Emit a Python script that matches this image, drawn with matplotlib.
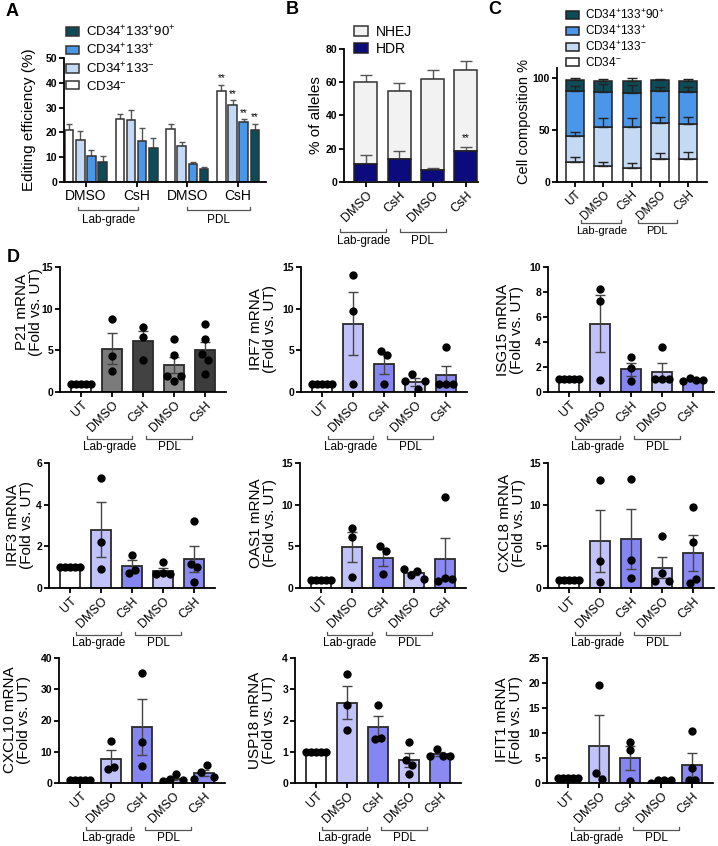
import numpy as np
import matplotlib
matplotlib.use("Agg")
import matplotlib.pyplot as plt
from matplotlib.patches import Patch

plt.rcParams['font.family'] = ['Liberation Sans', 'DejaVu Sans']
plt.rcParams['mathtext.fontset'] = 'custom'
plt.rcParams['mathtext.rm'] = 'Liberation Sans'
plt.rcParams['mathtext.it'] = 'Liberation Sans'
plt.rcParams['mathtext.bf'] = 'Liberation Sans:bold'
plt.rcParams['axes.linewidth'] = 1.3

# ---------------- data ----------------
pop_labels = ["CD34$^{-}$", "CD34$^{+}$133$^{-}$", "CD34$^{+}$133$^{+}$", "CD34$^{+}$133$^{+}$90$^{+}$"]
pop_colors = ["#ffffff", "#c4daf4", "#4a97ea", "#0d4b59"]

# A: editing efficiency (%), groups Lab DMSO, Lab CsH, PDL DMSO, PDL CsH
a_groups = ["DMSO", "CsH", "DMSO", "CsH"]
a_cd34neg = [20.8, 25.3, 21.4, 36.8]
a_cd34neg_err = [2.5, 2.1, 1.9, 2.4]
a_133neg = [17.0, 25.0, 14.4, 31.0]
a_133neg_err = [3.6, 4.0, 1.9, 2.0]
a_133pos = [10.4, 16.6, 7.1, 24.0]
a_133pos_err = [2.7, 5.0, 0.8, 1.3]
a_90pos = [7.9, 13.6, 5.1, 21.0]
a_90pos_err = [2.7, 4.3, 1.0, 2.5]

# B: % of alleles
b_groups = ["DMSO", "CsH", "DMSO", "CsH"]
b_total = [60.1, 55.0, 62.1, 67.5]
b_total_err = [4.2, 4.5, 5.3, 5.2]
b_hdr = [11.1, 14.1, 7.5, 18.5]
b_hdr_err = [5.0, 4.7, 1.2, 2.7]

# C: cell composition % (segment heights, bottom to top)
c_groups = ["UT", "DMSO", "CsH", "DMSO", "CsH"]
c_cd34neg = [19.4, 15.2, 13.9, 22.6, 22.6]
c_cd34neg_err = [4.6, 3.8, 4.5, 5.8, 6.4]
c_133neg = [25.1, 38.0, 39.3, 33.9, 32.9]
c_133neg_err = [3.9, 8.1, 8.4, 6.4, 6.8]
c_133pos = [43.5, 33.6, 32.3, 31.5, 31.3]
c_133pos_err = [5.0, 7.4, 7.7, 4.0, 5.2]
c_90pos = [10.4, 10.6, 11.9, 10.4, 10.9]
c_90pos_err = [2.2, 1.6, 2.6, 1.3, 2.0]

# D: mRNA fold vs UT
d_groups = ["UT", "DMSO", "CsH", "DMSO", "CsH"]

p21_pts = [[1] * 5, [8.8, 4.3, 2.5], [7.8, 6.6, 3.8], [6.3, 4.4, 1.9, 1.3, 1.9], [8.1, 6.4, 4.6, 3.8, 2.2]]
p21_mean = [1, 5.2, 6.1, 3.2, 5.0]
p21_sem = [0, 1.9, 1.2, 0.95, 1.0]

irf7_pts = [[1] * 5, [14.0, 9.7, 1.0], [4.9, 4.4, 0.9], [1.3, 2.2, 0.4, 1.3], [0.9, 5.4, 0.9, 0.9]]
irf7_mean = [1, 8.2, 3.4, 1.2, 2.0]
irf7_sem = [0, 3.8, 1.3, 0.45, 1.15]

isg15_pts = [[1] * 5, [8.2, 7.3, 0.95], [2.8, 1.9, 0.9], [1.0, 3.6, 1.0, 1.0], [0.85, 1.1, 0.95, 0.95]]
isg15_mean = [1, 5.45, 1.8, 1.63, 0.93]
isg15_sem = [0, 2.28, 0.52, 0.65, 0.06]

irf3_pts = [[1] * 5, [5.3, 2.2, 0.9], [0.7, 1.6, 0.85], [0.67, 1.24, 0.74, 0.67], [1.15, 3.2, 1.0, 0.3]]
irf3_mean = [1, 2.8, 1.05, 0.83, 1.41]
irf3_sem = [0, 1.32, 0.3, 0.13, 0.62]

oas1_pts = [[1] * 5, [7.2, 6.1, 1.3], [5.0, 4.4, 1.7], [2.3, 1.6, 2.1, 1.1], [0.8, 10.9, 1.2, 1.1]]
oas1_mean = [1, 4.87, 3.65, 1.8, 3.5]
oas1_sem = [0, 1.8, 1.05, 0.27, 2.47]

cxcl8_pts = [[1] * 5, [13.0, 3.2, 0.75], [13.1, 3.4, 1.2], [0.8, 6.3, 1.8, 0.85], [0.6, 9.7, 5.5, 1.1]]
cxcl8_mean = [1, 5.67, 5.9, 2.45, 4.2]
cxcl8_sem = [0, 3.75, 3.6, 1.28, 2.15]

cxcl10_pts = [[1] * 5, [4.5, 13.4, 5.2], [35.2, 13.1, 5.6], [0.64, 1.4, 2.8, 0.9], [1.2, 3.5, 5.9, 1.9]]
cxcl10_mean = [1, 7.63, 18.0, 1.43, 3.1]
cxcl10_sem = [0, 2.9, 8.9, 0.45, 0.95]

usp18_pts = [[1] * 5, [3.5, 2.5, 1.7], [1.4, 2.5, 1.45], [1.32, 0.75, 0.57, 0.29], [0.85, 1.1, 0.88, 0.88]]
usp18_mean = [1, 2.57, 1.78, 0.73, 0.93]
usp18_sem = [0, 0.52, 0.37, 0.23, 0.06]

ifit1_pts = [[1] * 5, [19.6, 2.1, 0.9], [8.3, 6.6, 0.4], [0.1, 0.6, 0.7, 0.7], [0.6, 10.4, 3.0, 0.7]]
ifit1_mean = [1, 7.5, 5.07, 0.5, 3.6]
ifit1_sem = [0, 6.1, 2.4, 0.15, 2.35]

gray_cols = ["#ffffff", "#7b7b7b", "#424242", "#8a8a8a", "#3c3c3c"]
blue_cols = ["#ffffff", "#c2c2fa", "#8686f2", "#c6c6fa", "#8a8af2"]

# ---------------- helpers ----------------
W, H = 718, 846
fig = plt.figure(figsize=(W / 100, H / 100), dpi=100)


def box(left, top, right, bottom):
    return fig.add_axes([left / W, 1 - bottom / H, (right - left) / W, (bottom - top) / H])


def style(ax):
    for s in ["top", "right"]:
        ax.spines[s].set_visible(False)
    ax.tick_params(axis="both", direction="out", length=3.5, width=1.3, pad=1.5)
    ax.tick_params(axis="y", labelsize=7.5)
    for t in ax.get_yticklabels():
        t.set_fontweight("bold")


def bracket(ax, x0, x1, dy, ty, label, fs=8.5):
    tr = ax.get_xaxis_transform()
    h = ax.get_position().height * H
    y = -dy / h
    up = 3 / h
    ax.plot([x0, x0, x1, x1], [y + up, y, y, y + up], color="#555555", lw=0.9,
            transform=tr, clip_on=False)
    ax.text((x0 + x1) / 2, -ty / h, label, transform=tr, ha="center", va="center", fontsize=fs)


def swarm(ax, pos, vals, thr_px=8.0):
    h = ax.get_position().height * H
    ylo, yhi = ax.get_ylim()
    ppu = h / (yhi - ylo)
    order = np.argsort(vals)
    clusters, cur = [], [order[0]]
    for a, b in zip(order[:-1], order[1:]):
        if (vals[b] - vals[a]) * ppu < thr_px:
            cur.append(b)
        else:
            clusters.append(cur)
            cur = [b]
    clusters.append(cur)
    xs = np.full(len(vals), float(pos))
    for c in clusters:
        c = sorted(c)
        k = len(c)
        if k > 1:
            step = min(0.22, 0.64 / (k - 1))
            for j, idx in enumerate(c):
                xs[idx] = pos + (j - (k - 1) / 2) * step
    ax.scatter(xs, vals, s=36, color="black", zorder=5, linewidths=0)


def ylab(text, x, y, fs=11):
    fig.text(x / W, 1 - y / H, text, rotation=90, ha="center", va="center",
             fontsize=fs, multialignment="center", linespacing=1.0)


# ---------------- panel A ----------------
axA = box(64, 58, 266, 182)
xa = np.arange(4)
offs = [-0.33, -0.11, 0.11, 0.33]
a_vals = [a_cd34neg, a_133neg, a_133pos, a_90pos]
a_errs = [a_cd34neg_err, a_133neg_err, a_133pos_err, a_90pos_err]
for i in range(4):
    axA.bar(xa + offs[i], a_vals[i], 0.17, color=pop_colors[i], edgecolor="#333333", lw=1.1, zorder=2)
    axA.errorbar(xa + offs[i], a_vals[i], yerr=[np.zeros(4), a_errs[i]], fmt="none",
                 ecolor="#555555", elinewidth=1, capsize=2.5, capthick=1, zorder=1)
    axA.text(3 + offs[i], a_vals[i][3] + a_errs[i][3] + 0.6, "**", ha="center", va="bottom", fontsize=7)
axA.set_ylim(0, 50)
axA.set_yticks(range(0, 51, 10))
axA.set_xlim(-0.43, 3.55)
axA.set_xticks(xa)
axA.set_xticklabels(a_groups, fontsize=10)
style(axA)
bracket(axA, -0.15, 1.03, 28, 38, "Lab-grade")
bracket(axA, 2.0, 3.24, 28, 38, "PDL")
handles = [Patch(facecolor=pop_colors[i], edgecolor="#333333", lw=1.1) for i in [3, 2, 1, 0]]
axA.legend(handles, [pop_labels[i] for i in [3, 2, 1, 0]], loc="upper left",
           bbox_to_anchor=(66 / W, 1 - 24 / H), bbox_transform=fig.transFigure, frameon=False,
           fontsize=9.5, handlelength=1.0, handleheight=0.65, handletextpad=0.5,
           labelspacing=0.26, borderpad=0, borderaxespad=0)
ylab("Editing efficiency (%)", 29, 120)

# ---------------- panel B ----------------
axB = box(344, 49, 478, 182)
xb = np.arange(4)
nhej = np.array(b_total) - np.array(b_hdr)
axB.bar(xb, nhej, 0.69, bottom=b_hdr, color="#f2f2f2", edgecolor="#333333", lw=1.1, zorder=2)
axB.errorbar(xb, b_total, yerr=[np.zeros(4), b_total_err], fmt="none", ecolor="#555555",
             elinewidth=1, capsize=4, capthick=1, zorder=1)
axB.bar(xb, b_hdr, 0.69, color="#0b0b7e", edgecolor="#222222", lw=1.1, zorder=3)
axB.errorbar(xb, b_hdr, yerr=[np.zeros(4), b_hdr_err], fmt="none", ecolor="#555555",
             elinewidth=1, capsize=4, capthick=1, zorder=2.5)
axB.text(3, b_hdr[3] + b_hdr_err[3] + 2.5, "**", ha="center", va="bottom", fontsize=7, zorder=4)
axB.set_ylim(0, 80)
axB.set_yticks(range(0, 81, 20))
axB.set_xlim(-0.65, 3.36)
axB.set_xticks(xb)
axB.set_xticklabels(b_groups, rotation=45, ha="right", rotation_mode="anchor", fontsize=9)
style(axB)
bracket(axB, -0.76, 0.62, 50, 59, "Lab-grade")
bracket(axB, 1.02, 2.4, 50, 59, "PDL")
axB.legend([Patch(facecolor="#f2f2f2", edgecolor="#333333", lw=1.1),
            Patch(facecolor="#0b0b7e", edgecolor="#222222", lw=1.1)], ["NHEJ", "HDR"],
           loc="upper left", bbox_to_anchor=(354 / W, 1 - 25 / H), bbox_transform=fig.transFigure,
           frameon=False, fontsize=10, handlelength=1.0, handleheight=0.65, handletextpad=0.6,
           labelspacing=0.2, borderpad=0, borderaxespad=0)
ylab("% of alleles", 316, 115)

# ---------------- panel C ----------------
axC = box(557, 68, 707, 182)
xc = np.arange(5)
c_vals = [c_cd34neg, c_133neg, c_133pos, c_90pos]
c_errs = [c_cd34neg_err, c_133neg_err, c_133pos_err, c_90pos_err]
bottom = np.zeros(5)
for i in range(4):
    axC.bar(xc, c_vals[i], 0.64, bottom=bottom, color=pop_colors[i], edgecolor="#222222", lw=1.1, zorder=2)
    bottom = bottom + np.array(c_vals[i])
    axC.errorbar(xc, bottom, yerr=[np.zeros(5), c_errs[i]], fmt="none", ecolor="#222222",
                 elinewidth=1, capsize=3.5, capthick=1, zorder=3)
axC.set_ylim(0, 110)
axC.set_yticks([0, 50, 100])
axC.set_xlim(-0.64, 4.67)
axC.set_xticks(xc)
axC.set_xticklabels(c_groups, rotation=45, ha="right", rotation_mode="anchor", fontsize=8.5)
style(axC)
bracket(axC, 0.21, 1.64, 41, 49, "Lab-grade", fs=8)
bracket(axC, 2.21, 3.61, 41, 49, "PDL", fs=8)
handles = [Patch(facecolor=pop_colors[i], edgecolor="#222222", lw=1.1) for i in [3, 2, 1, 0]]
axC.legend(handles, [pop_labels[i] for i in [3, 2, 1, 0]], loc="upper left",
           bbox_to_anchor=(566 / W, 1 - 8 / H), bbox_transform=fig.transFigure, frameon=False,
           fontsize=8.5, handlelength=1.1, handleheight=0.7, handletextpad=0.55,
           labelspacing=0.2, borderpad=0, borderaxespad=0)
ylab("Cell composition %", 524, 122, fs=10.5)

# ---------------- panel D ----------------
d_panels = [
    ("P21", p21_pts, p21_mean, p21_sem, 15, 5, gray_cols, 60, 267, (29, 312)),
    ("IRF7", irf7_pts, irf7_mean, irf7_sem, 15, 5, blue_cols, 301, 267, (263, 329)),
    ("ISG15", isg15_pts, isg15_mean, isg15_sem, 10, 2, blue_cols, 548, 267, (510, 330)),
    ("IRF3", irf3_pts, irf3_mean, irf3_sem, 6, 2, blue_cols, 49, 463, (20, 525)),
    ("OAS1", oas1_pts, oas1_mean, oas1_sem, 15, 5, blue_cols, 300, 463, (263, 523)),
    ("CXCL8", cxcl8_pts, cxcl8_mean, cxcl8_sem, 15, 5, blue_cols, 548, 463, (512, 523)),
    ("CXCL10", cxcl10_pts, cxcl10_mean, cxcl10_sem, 40, 10, blue_cols, 59, 658, (17, 720)),
    ("USP18", usp18_pts, usp18_mean, usp18_sem, 4, 1, blue_cols, 295, 658, (262, 720)),
    ("IFIT1", ifit1_pts, ifit1_mean, ifit1_sem, 25, 5, blue_cols, 547, 658, (509, 720)),
]
xd = np.arange(5)
for name, pts, mean, sem, ymax, ystep, cols, left, top, lab in d_panels:
    ax = box(left, top, left + 166, top + 125)
    ax.set_ylim(0, ymax)
    ax.set_xlim(-0.68, 4.68)
    ax.bar(xd, mean, 0.65, color=cols, edgecolor="#2a2a2a", lw=1.3, zorder=2)
    ax.errorbar(xd[1:], mean[1:], yerr=sem[1:], fmt="none", ecolor="#444444", elinewidth=1,
                capsize=3.5, capthick=1, zorder=3)
    for k in range(5):
        swarm(ax, xd[k], np.array(pts[k], dtype=float))
    ax.set_yticks(np.arange(0, ymax + 0.001, ystep))
    ax.set_xticks(xd)
    ax.set_xticklabels(d_groups, rotation=45, ha="right", rotation_mode="anchor", fontsize=9)
    style(ax)
    bracket(ax, 0.2, 1.65, 47, 55, "Lab-grade")
    bracket(ax, 2.1, 3.58, 47, 55, "PDL")
    ylab(name + " mRNA\n(Fold vs. UT)", lab[0], lab[1])

for letter, x, y in [("A", 12, 12), ("B", 292, 10), ("C", 495, 10), ("D", 13, 257)]:
    fig.text(x / W, 1 - y / H, letter, fontsize=13, fontweight="bold", ha="center", va="center")

fig.savefig("out.png", dpi=100)
